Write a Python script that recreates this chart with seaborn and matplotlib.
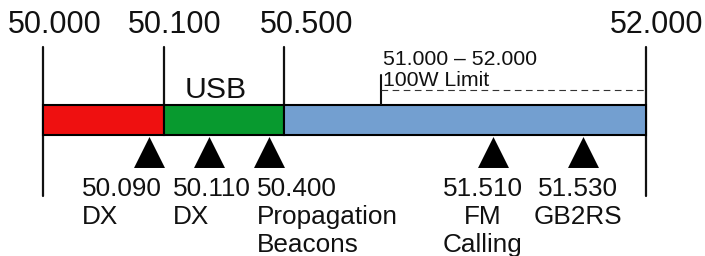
import matplotlib
matplotlib.use("Agg")
import matplotlib.pyplot as plt
import seaborn as sns

# band edges (MHz) and their place on the schematic axis (not to scale)
edge_labels = ["50.000", "50.100", "50.500", "52.000"]
edge_pos = [0.0, 1.0, 2.0, 5.0]
edge_label_pos = [0.0995, 1.095, 2.189, 5.091]
seg_colors = ["#EF1010", "#089A2F", "#739FD0"]

# spot frequencies shown as triangles under the band
marker_freqs = ["50.090", "50.110", "50.400", "51.510", "51.530"]
marker_names = [["DX"], ["DX"], ["Propagation", "Beacons"], ["FM", "Calling"], ["GB2RS"]]
marker_pos = [0.88, 1.38, 1.87, 3.73, 4.48]
label_pos = [0.323, 1.078, 1.774, 3.648, 4.436]
label_ha = ["left", "left", "left", "center", "center"]

limit_start = 2.803   # 51.000 on the schematic axis
limit_text = ["51.000 \u2013 52.000", "100W Limit"]

sns.set_theme(style="white")
plt.rcParams["font.family"] = ["Liberation Sans", "DejaVu Sans"]

fig = plt.figure(figsize=(7.05, 2.56), dpi=100)
ax = fig.add_axes([0, 0, 1, 1])
ax.set_xlim(-43 / 120.6, 662 / 120.6)
ax.set_ylim(256, 0)
ax.axis("off")

# coloured segments
starts = edge_pos[:-1]
widths = [b - a for a, b in zip(edge_pos[:-1], edge_pos[1:])]
ax.barh(y=120, width=widths, left=starts, height=30, color=seg_colors,
        edgecolor="black", linewidth=1.5, zorder=2)

# edge lines and labels
for i, (p, lp, lab) in enumerate(zip(edge_pos, edge_label_pos, edge_labels)):
    bottom = 196 if i in (0, len(edge_pos) - 1) else 105
    ax.plot([p, p], [47, bottom], color="#111111", lw=1.6, zorder=1)
    ax.text(lp, 33, lab, ha="center", va="baseline", fontsize=22, color="#111111")

ax.text((edge_pos[1] + edge_pos[2]) / 2 - 0.07, 98, "USB", ha="center",
        va="baseline", fontsize=21.7, color="#111111")

# 100W limit annotation
ax.plot([limit_start, limit_start], [75, 104], color="#111111", lw=1.5)
ax.plot([limit_start, edge_pos[-1]], [90, 90], color="#333333", lw=0.8,
        ls=(0, (6, 4)))
ax.text(limit_start + 0.02, 65, limit_text[0], ha="left", va="baseline",
        fontsize=15.3, color="#111111")
ax.text(limit_start + 0.02, 86, limit_text[1], ha="left", va="baseline",
        fontsize=15.3, color="#111111")

# triangles
sns.scatterplot(x=marker_pos, y=[152] * len(marker_pos), marker="^", s=497,
                color="black", linewidth=0, ax=ax, zorder=3, legend=False)

for freq, names, lx, ha in zip(marker_freqs, marker_names, label_pos, label_ha):
    lines = [freq] + names
    for k, line in enumerate(lines):
        ax.text(lx, 196 + 28 * k, line, ha=ha, va="baseline", fontsize=18.8,
                color="#111111")

fig.savefig("out.png", dpi=100)
